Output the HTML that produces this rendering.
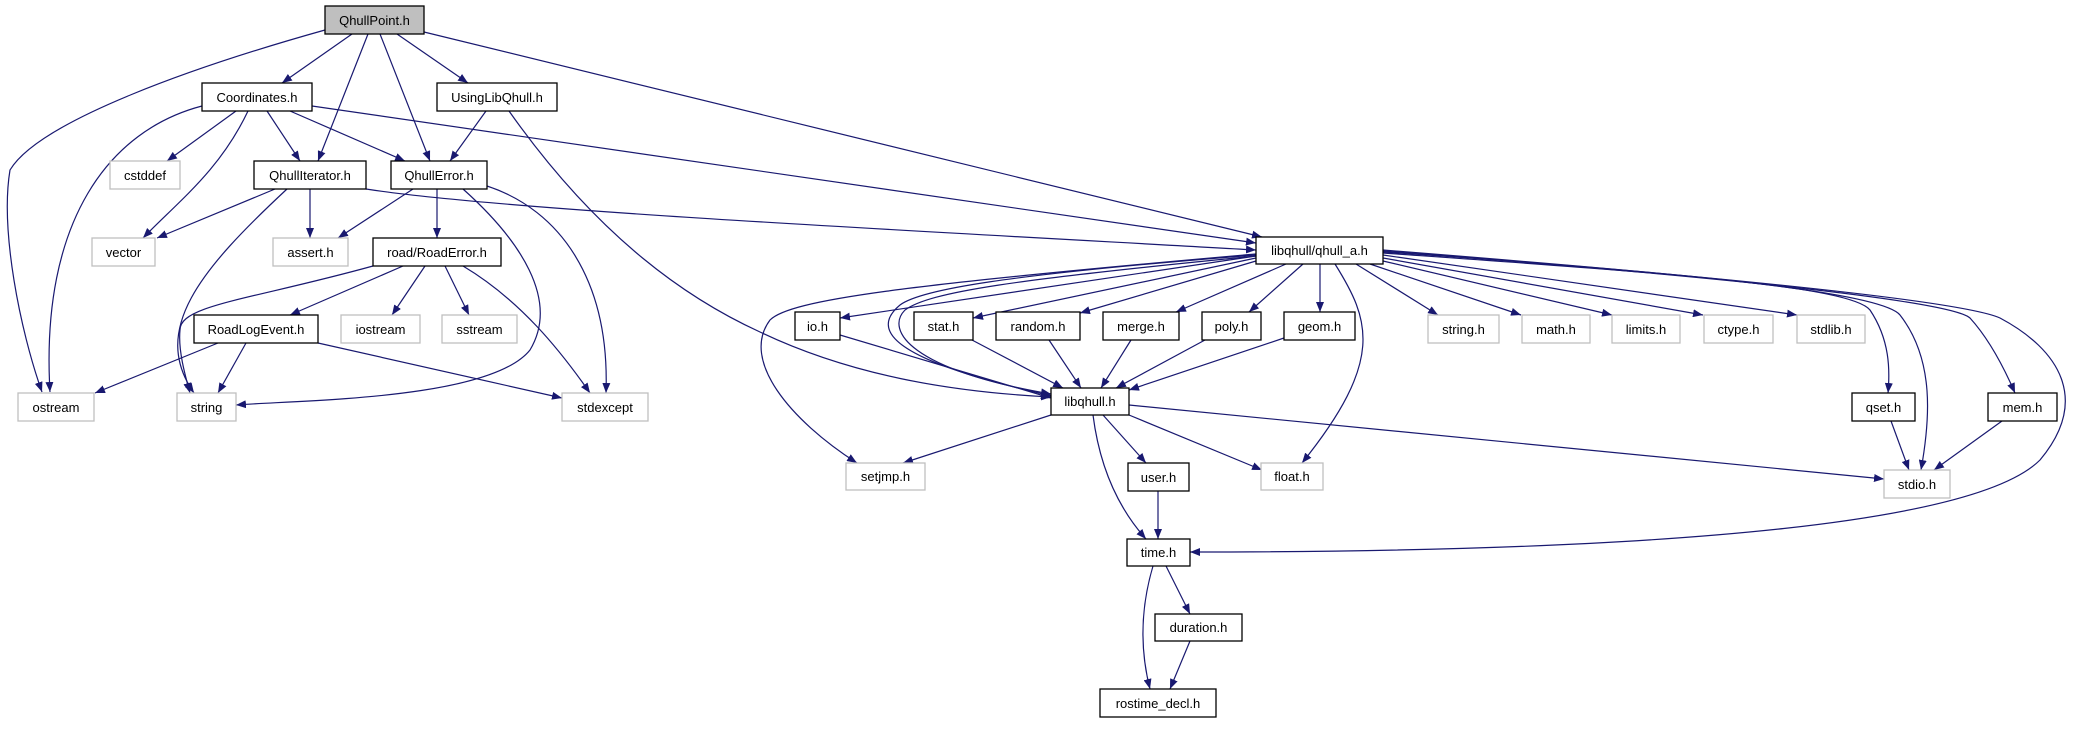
<!DOCTYPE html>
<html><head><meta charset="utf-8"><style>
html,body{margin:0;padding:0;background:#fff;}
svg{display:block;}
text{font-family:"Liberation Sans",sans-serif;font-size:13px;fill:#000;}
.e{fill:none;stroke:#191970;stroke-width:1.2;}
.b{fill:#fff;stroke:#000;stroke-width:1.3;}
.g{fill:#fff;stroke:#bfbfbf;stroke-width:1.3;}
</style></head><body>
<svg width="2081" height="736" viewBox="0 0 2081 736" xmlns="http://www.w3.org/2000/svg">
<defs><marker id="a" viewBox="0 0 10 8" refX="10" refY="4" markerWidth="10" markerHeight="8" markerUnits="userSpaceOnUse" orient="auto"><path d="M0,0 L10,4 L0,8 z" fill="#191970"/></marker></defs>
<g class="e" marker-end="url(#a)">
<!-- QhullPoint -->
<path d="M325,30 C200,65 40,120 10,170 C0,230 20,330 42,392"/>
<path d="M352,34 L282,83"/>
<path d="M368,34 L318,161"/>
<path d="M380,34 L430,161"/>
<path d="M397,34 L468,83"/>
<path d="M424,32 L1262,237"/>
<!-- Coordinates -->
<path d="M202,106 C110,130 40,220 50,392"/>
<path d="M236,111 L167,161"/>
<path d="M248,111 C220,170 180,200 143,238"/>
<path d="M267,111 L300,161"/>
<path d="M290,111 L405,161"/>
<path d="M312,106 L1256,243"/>
<!-- UsingLibQhull -->
<path d="M486,111 L450,161"/>
<path d="M509,111 C600,240 690,300 760,332 C850,375 950,392 1051,397"/>
<!-- QhullIterator -->
<path d="M275,189 L157,238"/>
<path d="M310,189 L310,238"/>
<path d="M287,189 C200,270 150,330 194,393"/>
<path d="M366,189 C500,210 900,230 1256,250"/>
<!-- QhullError -->
<path d="M413,189 L338,238"/>
<path d="M437,189 L437,238"/>
<path d="M463,189 C520,240 560,300 530,350 C490,400 300,400 236,405"/>
<path d="M487,186 C560,210 610,280 606,393"/>
<!-- RoadError -->
<path d="M373,266 C250,300 180,305 180,330 C178,350 185,375 190,393"/>
<path d="M403,266 L290,315"/>
<path d="M425,266 L392,315"/>
<path d="M445,266 L469,315"/>
<path d="M463,266 C520,300 560,350 590,393"/>
<!-- RoadLogEvent -->
<path d="M218,343 L95,393"/>
<path d="M246,343 L218,393"/>
<path d="M318,343 L562,398"/>
<!-- qhull_a -->
<path d="M1256,256 L840,318"/>
<path d="M1256,258 L973,318"/>
<path d="M1256,261 L1080,313"/>
<path d="M1286,264 L1176,312"/>
<path d="M1303,264 L1249,312"/>
<path d="M1320,264 L1320,312"/>
<path d="M1256,254 C900,285 790,300 770,320 C740,360 790,420 857,463"/>
<path d="M1256,255 C1000,275 920,290 900,305 C870,330 890,360 1052,396"/>
<path d="M1256,256 C1010,280 930,292 905,310 C885,330 910,370 1051,394"/>
<path d="M1335,264 C1370,320 1385,360 1302,463"/>
<path d="M1356,264 L1438,315"/>
<path d="M1370,264 L1521,315"/>
<path d="M1383,261 L1612,315"/>
<path d="M1383,258 L1703,315"/>
<path d="M1383,255 L1797,315"/>
<path d="M1383,253 C1650,272 1850,285 1870,310 C1890,340 1890,370 1888,393"/>
<path d="M1383,252 C1650,270 1880,290 1900,315 C1935,360 1930,420 1921,470"/>
<path d="M1383,251 C1700,275 1950,300 1970,318 C1990,340 2005,370 2015,393"/>
<path d="M1383,250 C1700,275 1960,300 2000,318 C2060,350 2090,400 2040,460 C1980,520 1700,552 1190,552"/>
<!-- libqhull.h -->
<path d="M1051,415 L903,463"/>
<path d="M1103,415 L1146,463"/>
<path d="M1129,415 L1262,470"/>
<path d="M1093,415 C1100,470 1120,510 1146,539"/>
<path d="M1129,405 L1884,479"/>
<!-- leaves into libqhull -->
<path d="M840,335 L1051,398"/>
<path d="M972,340 L1063,388"/>
<path d="M1049,340 L1081,388"/>
<path d="M1131,340 L1101,388"/>
<path d="M1205,340 L1116,388"/>
<path d="M1284,338 L1129,390"/>
<path d="M1891,421 L1909,470"/>
<path d="M2002,421 L1934,470"/>
<path d="M1158,491 L1158,539"/>
<path d="M1166,566 L1190,614"/>
<path d="M1153,566 C1140,610 1140,650 1150,689"/>
<path d="M1190,641 L1170,689"/>
</g>
<!-- nodes -->
<rect x="325" y="6" width="99" height="28" fill="#bfbfbf" stroke="#000" stroke-width="1.3"/>
<text x="374.5" y="25" text-anchor="middle">QhullPoint.h</text>
<g>
<rect class="b" x="202" y="83" width="110" height="28"/><text x="257" y="102" text-anchor="middle">Coordinates.h</text>
<rect class="b" x="437" y="83" width="120" height="28"/><text x="497" y="102" text-anchor="middle">UsingLibQhull.h</text>
<rect class="g" x="110" y="161" width="70" height="28"/><text x="145" y="180" text-anchor="middle">cstddef</text>
<rect class="b" x="254" y="161" width="112" height="28"/><text x="310" y="180" text-anchor="middle">QhullIterator.h</text>
<rect class="b" x="391" y="161" width="96" height="28"/><text x="439" y="180" text-anchor="middle">QhullError.h</text>
<rect class="g" x="92" y="238" width="63" height="28"/><text x="123.5" y="257" text-anchor="middle">vector</text>
<rect class="g" x="273" y="238" width="75" height="28"/><text x="310.5" y="257" text-anchor="middle">assert.h</text>
<rect class="b" x="373" y="238" width="128" height="28"/><text x="437" y="257" text-anchor="middle">road/RoadError.h</text>
<rect class="b" x="194" y="315" width="124" height="28"/><text x="256" y="334" text-anchor="middle">RoadLogEvent.h</text>
<rect class="g" x="341" y="315" width="79" height="28"/><text x="380.5" y="334" text-anchor="middle">iostream</text>
<rect class="g" x="442" y="315" width="75" height="28"/><text x="479.5" y="334" text-anchor="middle">sstream</text>
<rect class="g" x="18" y="393" width="76" height="28"/><text x="56" y="412" text-anchor="middle">ostream</text>
<rect class="g" x="177" y="393" width="59" height="28"/><text x="206.5" y="412" text-anchor="middle">string</text>
<rect class="g" x="562" y="393" width="86" height="28"/><text x="605" y="412" text-anchor="middle">stdexcept</text>
<rect class="b" x="1256" y="237" width="127" height="27"/><text x="1319.5" y="255" text-anchor="middle">libqhull/qhull_a.h</text>
<rect class="b" x="795" y="312" width="45" height="28"/><text x="817.5" y="331" text-anchor="middle">io.h</text>
<rect class="b" x="914" y="312" width="59" height="28"/><text x="943.5" y="331" text-anchor="middle">stat.h</text>
<rect class="b" x="996" y="312" width="84" height="28"/><text x="1038" y="331" text-anchor="middle">random.h</text>
<rect class="b" x="1103" y="312" width="76" height="28"/><text x="1141" y="331" text-anchor="middle">merge.h</text>
<rect class="b" x="1202" y="312" width="59" height="28"/><text x="1231.5" y="331" text-anchor="middle">poly.h</text>
<rect class="b" x="1284" y="312" width="71" height="28"/><text x="1319.5" y="331" text-anchor="middle">geom.h</text>
<rect class="g" x="1428" y="315" width="71" height="28"/><text x="1463.5" y="334" text-anchor="middle">string.h</text>
<rect class="g" x="1522" y="315" width="68" height="28"/><text x="1556" y="334" text-anchor="middle">math.h</text>
<rect class="g" x="1612" y="315" width="68" height="28"/><text x="1646" y="334" text-anchor="middle">limits.h</text>
<rect class="g" x="1704" y="315" width="69" height="28"/><text x="1738.5" y="334" text-anchor="middle">ctype.h</text>
<rect class="g" x="1797" y="315" width="68" height="28"/><text x="1831" y="334" text-anchor="middle">stdlib.h</text>
<rect class="b" x="1852" y="393" width="63" height="28"/><text x="1883.5" y="412" text-anchor="middle">qset.h</text>
<rect class="b" x="1988" y="393" width="69" height="28"/><text x="2022.5" y="412" text-anchor="middle">mem.h</text>
<rect class="g" x="1884" y="470" width="66" height="28"/><text x="1917" y="489" text-anchor="middle">stdio.h</text>
<rect class="b" x="1051" y="388" width="78" height="27"/><text x="1090" y="406" text-anchor="middle">libqhull.h</text>
<rect class="g" x="846" y="463" width="79" height="27"/><text x="885.5" y="481" text-anchor="middle">setjmp.h</text>
<rect class="b" x="1128" y="463" width="61" height="28"/><text x="1158.5" y="482" text-anchor="middle">user.h</text>
<rect class="g" x="1261" y="463" width="62" height="27"/><text x="1292" y="481" text-anchor="middle">float.h</text>
<rect class="b" x="1127" y="539" width="63" height="27"/><text x="1158.5" y="557" text-anchor="middle">time.h</text>
<rect class="b" x="1155" y="614" width="87" height="27"/><text x="1198.5" y="632" text-anchor="middle">duration.h</text>
<rect class="b" x="1100" y="689" width="116" height="28"/><text x="1158" y="708" text-anchor="middle">rostime_decl.h</text>
</g>
</svg>
</body></html>
